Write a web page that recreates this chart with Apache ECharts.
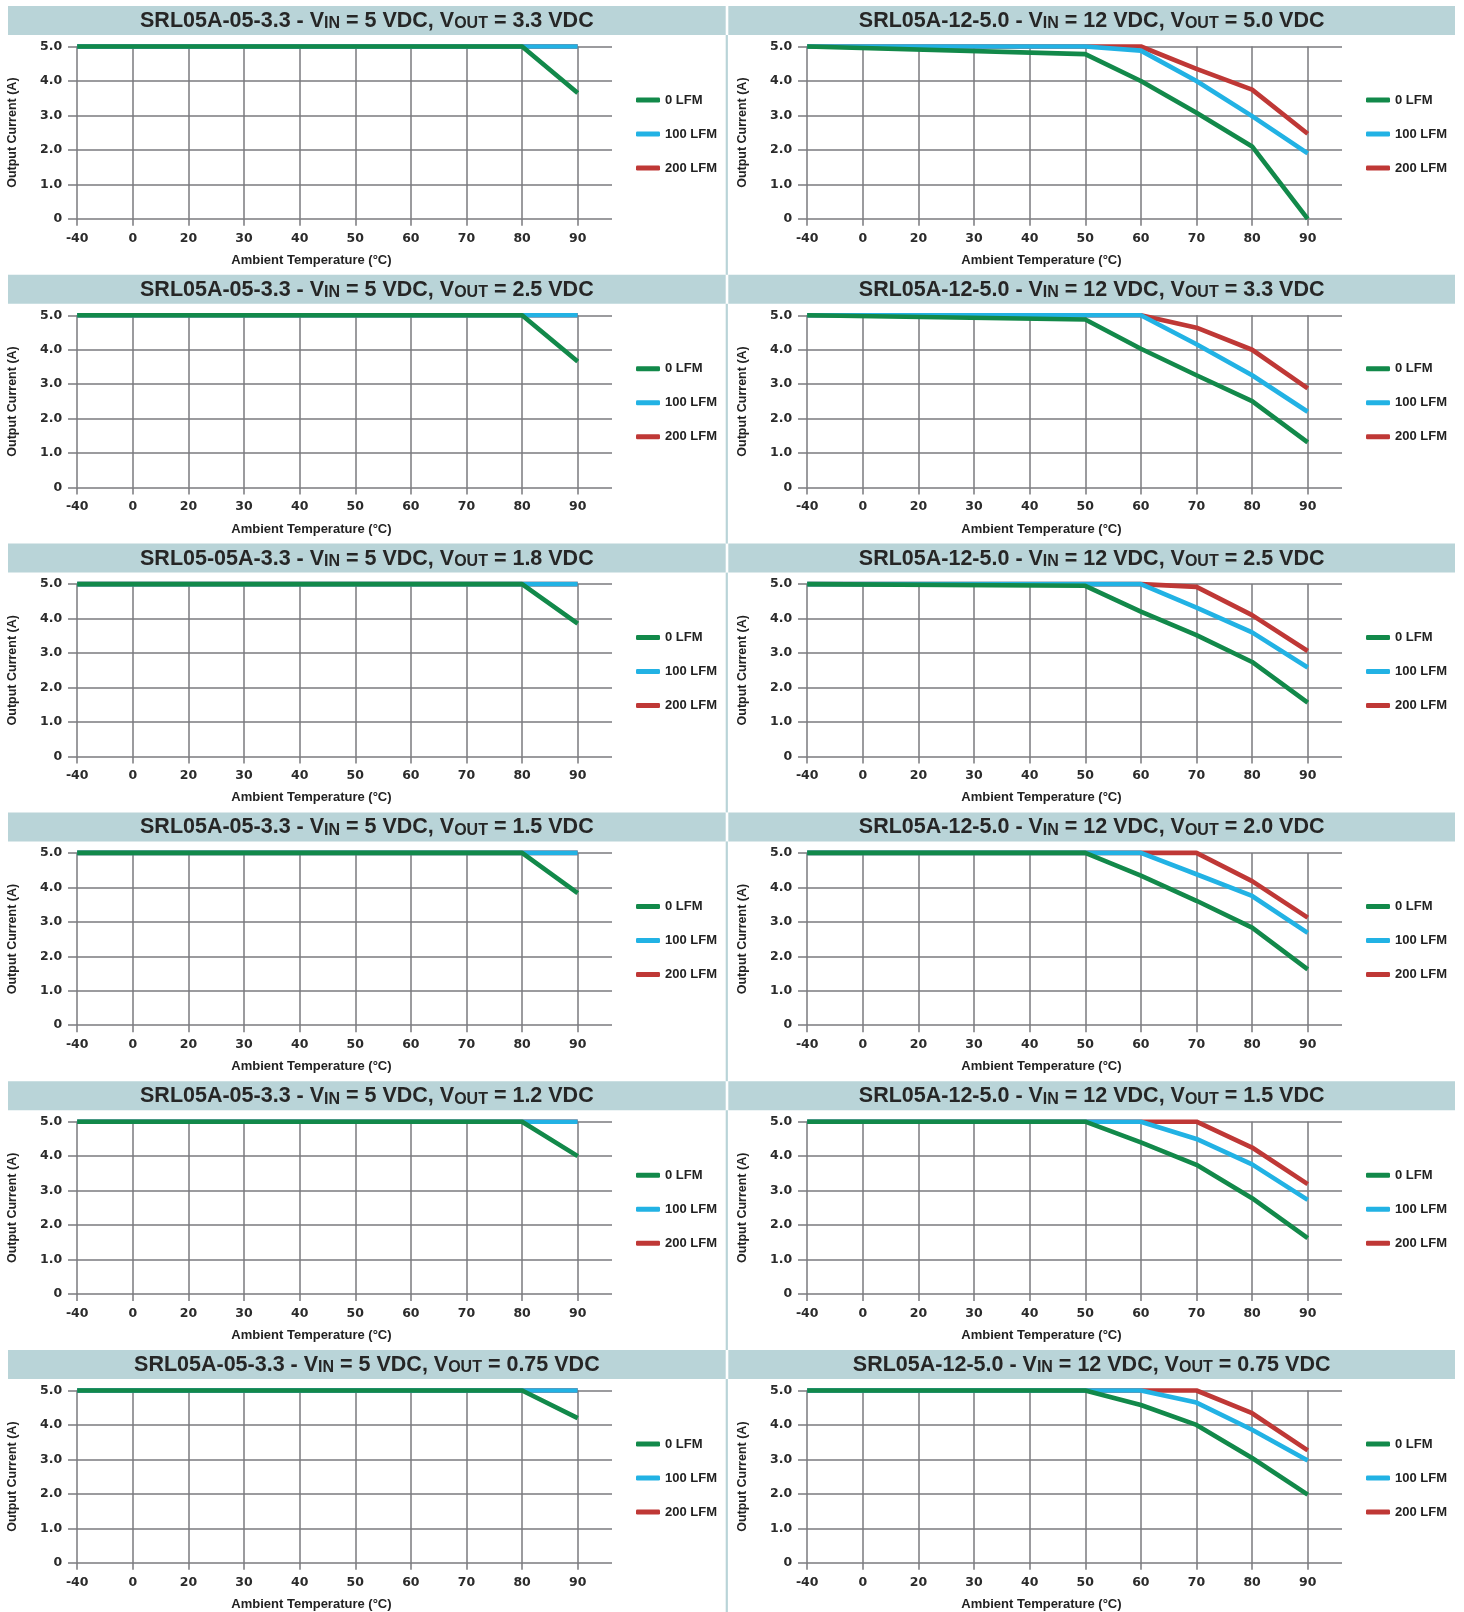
<!DOCTYPE html>
<html><head><meta charset="utf-8">
<script src="https://cdn.jsdelivr.net/npm/echarts@6/dist/echarts.min.js"></script>
<style>html,body{margin:0;padding:0;background:#fff}#c{width:1464px;height:1612px}</style>
</head><body><div id="c"></div>
<script>
// ---------- DATA ----------
const temps = ['-40','0','20','30','40','50','60','70','80','90'];
const yTickLabels = ['0','1.0','2.0','3.0','4.0','5.0'];
const seriesNames = ['0 LFM','100 LFM','200 LFM'];
const xAxisTitle = 'Ambient Temperature (°C)';
const yAxisTitle = 'Output Current (A)';

// title parts: [model, Vin, Vout]
const leftTitles = [
  ['SRL05A-05-3.3','5','3.3'],
  ['SRL05A-05-3.3','5','2.5'],
  ['SRL05-05A-3.3','5','1.8'],
  ['SRL05A-05-3.3','5','1.5'],
  ['SRL05A-05-3.3','5','1.2'],
  ['SRL05A-05-3.3','5','0.75']
];
const rightTitles = [
  ['SRL05A-12-5.0','12','5.0'],
  ['SRL05A-12-5.0','12','3.3'],
  ['SRL05A-12-5.0','12','2.5'],
  ['SRL05A-12-5.0','12','2.0'],
  ['SRL05A-12-5.0','12','1.5'],
  ['SRL05A-12-5.0','12','0.75']
];

// Left column (Vin = 5 VDC)
const L1_0   = [['-40',5.0],['80',5.0],['90',3.65]];
const L1_100 = [['-40',5.0],['90',5.0]];
const L1_200 = [['-40',5.0],['90',5.0]];
const L2_0   = [['-40',5.0],['80',5.0],['90',3.66]];
const L2_100 = [['-40',5.0],['90',5.0]];
const L2_200 = [['-40',5.0],['90',5.0]];
const L3_0   = [['-40',5.0],['80',5.0],['90',3.85]];
const L3_100 = [['-40',5.0],['90',5.0]];
const L3_200 = [['-40',5.0],['90',5.0]];
const L4_0   = [['-40',5.0],['80',5.0],['90',3.83]];
const L4_100 = [['-40',5.0],['90',5.0]];
const L4_200 = [['-40',5.0],['90',5.0]];
const L5_0   = [['-40',5.0],['80',5.0],['90',4.0]];
const L5_100 = [['-40',5.0],['90',5.0]];
const L5_200 = [['-40',5.0],['90',5.0]];
const L6_0   = [['-40',5.0],['80',5.0],['90',4.2]];
const L6_100 = [['-40',5.0],['90',5.0]];
const L6_200 = [['-40',5.0],['90',5.0]];

// Right column (Vin = 12 VDC)
const R1_0   = [['-40',5.0],['50',4.78],['60',4.0],['70',3.08],['80',2.1],['90',0]];
const R1_100 = [['-40',5.0],['50',5.0],['60',4.88],['70',4.0],['80',2.98],['90',1.9]];
const R1_200 = [['-40',5.0],['60',5.0],['70',4.35],['80',3.75],['90',2.47]];
const R2_0   = [['-40',5.0],['50',4.88],['60',4.03],['70',3.26],['80',2.51],['90',1.31]];
const R2_100 = [['-40',5.0],['60',5.0],['70',4.16],['80',3.26],['90',2.2]];
const R2_200 = [['-40',5.0],['60',5.0],['70',4.64],['80',4.0],['90',2.88]];
const R3_0   = [['-40',5.0],['50',4.95],['60',4.2],['70',3.52],['80',2.74],['90',1.56]];
const R3_100 = [['-40',5.0],['60',5.0],['70',4.32],['80',3.6],['90',2.58]];
const R3_200 = [['-40',5.0],['60',5.0],['70',4.92],['80',4.1],['90',3.06]];
const R4_0   = [['-40',5.0],['50',5.0],['60',4.34],['70',3.61],['80',2.83],['90',1.62]];
const R4_100 = [['-40',5.0],['60',5.0],['70',4.38],['80',3.75],['90',2.68]];
const R4_200 = [['-40',5.0],['70',5.0],['80',4.18],['90',3.12]];
const R5_0   = [['-40',5.0],['50',5.0],['60',4.4],['70',3.75],['80',2.78],['90',1.62]];
const R5_100 = [['-40',5.0],['60',5.0],['70',4.5],['80',3.76],['90',2.73]];
const R5_200 = [['-40',5.0],['70',5.0],['80',4.25],['90',3.19]];
const R6_0   = [['-40',5.0],['50',5.0],['60',4.58],['70',4.0],['80',3.04],['90',1.98]];
const R6_100 = [['-40',5.0],['60',5.0],['70',4.65],['80',3.86],['90',2.97]];
const R6_200 = [['-40',5.0],['70',5.0],['80',4.34],['90',3.26]];

const leftData  = [[L1_0,L1_100,L1_200],[L2_0,L2_100,L2_200],[L3_0,L3_100,L3_200],[L4_0,L4_100,L4_200],[L5_0,L5_100,L5_200],[L6_0,L6_100,L6_200]];
const rightData = [[R1_0,R1_100,R1_200],[R2_0,R2_100,R2_200],[R3_0,R3_100,R3_200],[R4_0,R4_100,R4_200],[R5_0,R5_100,R5_200],[R6_0,R6_100,R6_200]];

// ---------- STYLE / LAYOUT ----------
const seriesColors = ['#12894a','#22b2e4','#bf3836'];
const gridColor = '#7a7a7e';
const barColor = '#b9d4d8';
const ROW = 268.8;
const COLX = [0, 730];
const sans = "'Liberation Sans', Arial, sans-serif";
const tickFont = "'DejaVu Sans', sans-serif";

const grids = [], xAxes = [], yAxes = [], series = [], legends = [], titles = [], graphics = [];

function titleText(p){
  return '{n|' + p[0] + ' - V}{s|IN}{n| = ' + p[1] + ' VDC, V}{s|OUT}{n| = ' + p[2] + ' VDC}';
}

let idx = 0;
for (let c = 0; c < 2; c++) {
  for (let r = 0; r < 6; r++) {
    const ox = COLX[c], oy = r * ROW;
    const data = c === 0 ? leftData[r] : rightData[r];
    const tp = c === 0 ? leftTitles[r] : rightTitles[r];
    const gMain = idx * 2, gBg = idx * 2 + 1;

    // title bar
    const barX = c === 0 ? 8 : 728.3;
    const barW = c === 0 ? 717.7 : 726.7;
    graphics.push({type:'rect', silent:true, z:0, shape:{x:barX, y:oy+6, width:barW, height:29}, style:{fill:barColor}});
    if (c === 0) {
      graphics.push({type:'rect', silent:true, z:0, shape:{x:725.7, y:oy+35, width:2.2, height:ROW-29}, style:{fill:barColor}});
    }
    titles.push({
      text: titleText(tp),
      left: barX + barW / 2, top: oy + 21,
      textAlign: 'center', textVerticalAlign: 'middle', padding: 0,
      textStyle: {
        rich: {
          n: {fontFamily: sans, fontWeight: 'bold', fontSize: 21.5, color: '#262626', verticalAlign: 'bottom'},
          s: {fontFamily: sans, fontWeight: 'bold', fontSize: 16, color: '#262626', verticalAlign: 'bottom'}
        }
      }
    });

    grids.push({left: ox + 77.2, top: oy + 46.5, width: 500.5, height: 172.3, outerBoundsMode: 'none', containLabel: false});
    grids.push({left: ox + 68, top: oy + 46.5, width: 544, height: 172.3, outerBoundsMode: 'none', containLabel: false});

    xAxes.push({
      gridIndex: gMain, type: 'category', data: temps, boundaryGap: false,
      axisLine: {show: false},
      axisTick: {show: true, length: 7, interval: 0, lineStyle: {color: gridColor, width: 1.5}},
      axisLabel: {interval: 0, margin: 13, fontFamily: tickFont, fontWeight: 'bold', fontSize: 12.5, color: '#2b2b2b'},
      splitLine: {show: true, interval: 0, lineStyle: {color: gridColor, width: 1.5}},
      name: xAxisTitle, nameLocation: 'middle', nameGap: 35, nameMoveOverlap: false,
      nameTextStyle: {fontFamily: sans, fontWeight: 'bold', fontSize: 13, color: '#222', padding: [0, 32, 0, 0]}
    });
    xAxes.push({gridIndex: gBg, type: 'value', show: false, min: 0, max: 1});

    yAxes.push({
      gridIndex: gMain, type: 'value', min: 0, max: 5, interval: 1,
      axisLine: {show: false}, axisTick: {show: false}, splitLine: {show: false},
      axisLabel: {margin: 15, fontFamily: tickFont, fontWeight: 'bold', fontSize: 12.5, color: '#2b2b2b',
        formatter: function(v){ return yTickLabels[Math.round(v)]; }},
      name: yAxisTitle, nameLocation: 'middle', nameGap: 58, nameRotate: 90, nameMoveOverlap: false,
      nameTextStyle: {fontFamily: sans, fontWeight: 'bold', fontSize: 12.5, color: '#222'}
    });
    yAxes.push({
      gridIndex: gBg, type: 'value', min: 0, max: 5, interval: 1,
      axisLine: {show: false}, axisTick: {show: false}, axisLabel: {show: false},
      splitLine: {show: true, lineStyle: {color: gridColor, width: 1.5}}
    });

    for (const k of [2, 1, 0]) {
      series.push({
        type: 'line', name: seriesNames[k], xAxisIndex: gMain, yAxisIndex: gMain,
        data: data[k], symbol: 'none', showSymbol: false, clip: false, z: 3 + (2 - k),
        lineStyle: {width: 4.6, color: seriesColors[k]},
        itemStyle: {color: seriesColors[k]},
        emphasis: {disabled: true}
      });
    }

    legends.push({
      orient: 'vertical', left: ox + 636, top: oy + 93, padding: 0,
      itemWidth: 24, itemHeight: 5, itemGap: 20, icon: 'roundRect',
      data: seriesNames, selectedMode: false,
      textStyle: {fontFamily: sans, fontWeight: 'bold', fontSize: 13, color: '#222', lineHeight: 14}
    });
    idx++;
  }
}

const chart = echarts.init(document.getElementById('c'), null, {renderer: 'canvas'});
chart.setOption({
  animation: false,
  backgroundColor: '#ffffff',
  title: titles,
  grid: grids,
  xAxis: xAxes,
  yAxis: yAxes,
  legend: legends,
  series: series,
  graphic: {elements: graphics}
});
</script>
</body></html>
